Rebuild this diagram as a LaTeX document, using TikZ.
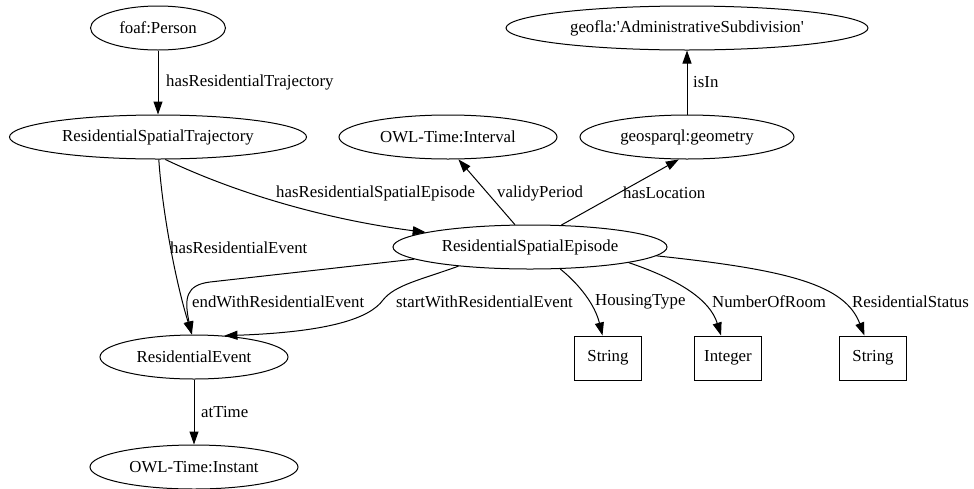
\documentclass[tikz,border=0pt]{standalone}
\usepackage{fontspec}
\setmainfont{Liberation Serif}
\usetikzlibrary{shapes.geometric,arrows.meta}
\tikzset{
  ell/.style={draw, ellipse, inner sep=0pt, line width=1pt, minimum height=44pt, font=\fontsize{16.8}{18}\selectfont},
  box/.style={draw, rectangle, inner sep=0pt, line width=1pt, minimum width=67pt, minimum height=44pt, font=\fontsize{16.8}{18}\selectfont},
  lbl/.style={anchor=west, inner sep=0pt, font=\fontsize{16.8}{18}\selectfont},
  conn/.style={line width=1pt, -{Triangle[length=13pt,width=9pt]}}
}
\begin{document}
\begin{tikzpicture}[x=1pt,y=-1pt]
\useasboundingbox (0,0) rectangle (974,488);
% nodes
\node[ell, minimum width=135pt] (person) at (158,28) {foaf:Person};
\node[ell, minimum width=362pt] (geofla) at (687,28) {geofla:\textquotesingle AdministrativeSubdivision\textquotesingle};
\node[ell, minimum width=297pt] (rst) at (158,137) {ResidentialSpatialTrajectory};
\node[ell, minimum width=218pt] (interval) at (448,137) {OWL-Time:Interval};
\node[ell, minimum width=214pt] (geom) at (687,137) {geosparql:geometry};
\node[ell, minimum width=274pt] (rse) at (530,247) {ResidentialSpatialEpisode};
\node[ell, minimum width=188pt] (revent) at (194,357) {ResidentialEvent};
\node[ell, minimum width=208pt] (instant) at (194,467) {OWL-Time:Instant};
\node[box] (str1) at (608,358) {String};
\node[box] (int) at (728,358) {Integer};
\node[box] (str2) at (873,358) {String};
% edges
\draw[conn] (person) -- (rst);
\draw[conn] (rst.-72) .. controls (240,195) and (330,220) .. (rse.172);
\draw[conn] (rst.-88) .. controls (163,220) and (178,290) .. (revent.95);
\draw[conn] (rse.124) -- (interval.-65);
\draw[conn] (rse.35) -- (geom.-110);
\draw[conn] (geom) -- (geofla);
\draw[conn] (rse.186) -- (210,282) .. controls (186,285) and (184,298) .. (revent.96);
\draw[conn] (rse.195) .. controls (420,280) and (395,285) .. (383,300) .. controls (370,318) and (330,332) .. (revent.35);
\draw[conn] (rse.-36) .. controls (580,285) and (595,305) .. (str1);
\draw[conn] (rse.-9) .. controls (680,280) and (710,300) .. (int);
\draw[conn] (rse.-4) .. controls (790,270) and (845,285) .. (str2);
\draw[conn] (revent) -- (instant);
% labels
\node[lbl] (l1) at (166,82) {hasResidentialTrajectory};
\node[lbl] (l2) at (276,193) {hasResidentialSpatialEpisode};
\node[lbl] (l3) at (170,248) {hasResidentialEvent};
\node[lbl] (l4) at (497,193) {validyPeriod};
\node[lbl] (l5) at (623,193) {hasLocation};
\node[lbl] (l6) at (693,82) {isIn};
\node[lbl] (l7) at (192,302) {endWithResidentialEvent};
\node[lbl] (l8) at (396,302) {startWithResidentialEvent};
\node[lbl] (l9) at (595,302) {HousingType};
\node[lbl] (l10) at (712,302) {NumberOfRoom};
\node[lbl] (l11) at (852,302) {ResidentialStatus};
\node[lbl] (l12) at (201,412) {atTime};
\end{tikzpicture}
\end{document}
